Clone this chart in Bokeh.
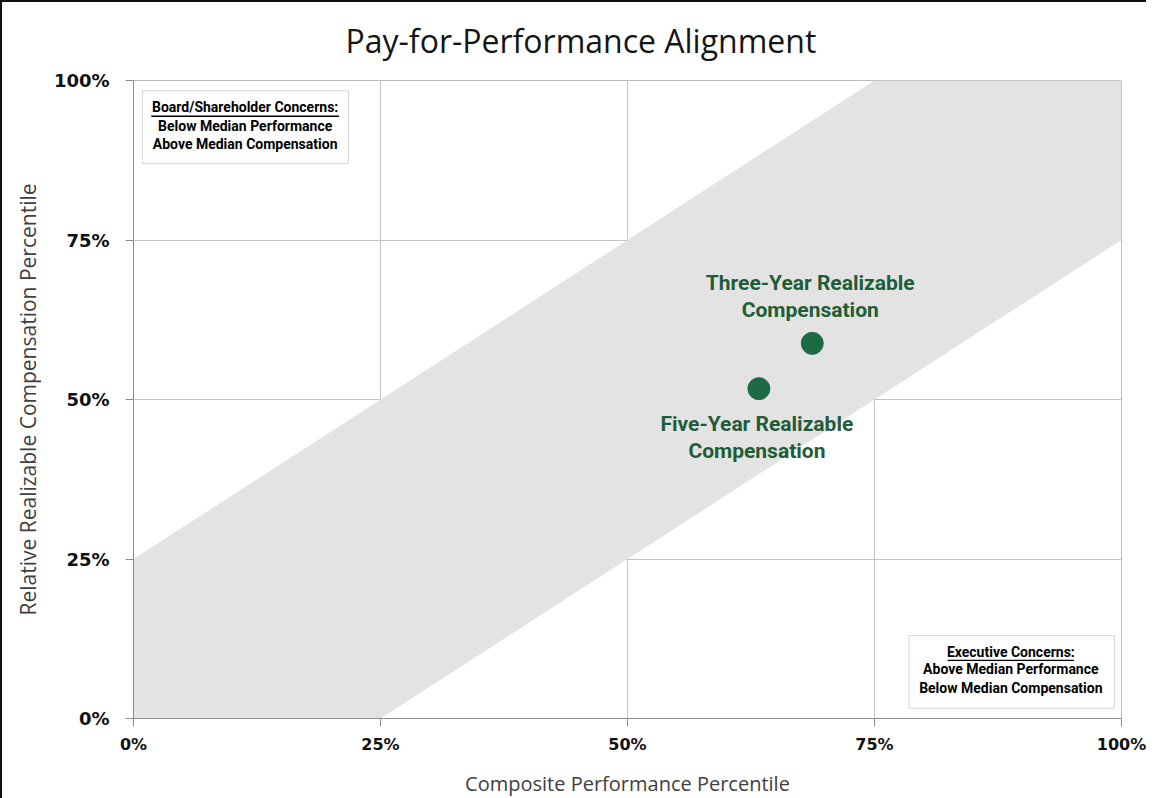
from bokeh.plotting import figure
from bokeh.models import Range1d, FixedTicker, CustomJSTickFormatter, Label, BoxAnnotation, ColumnDataSource
from bokeh.core.properties import value
from bokeh.embed import file_html
from bokeh.resources import INLINE

# ---- data ----
series_names = ["Three-Year Realizable\nCompensation", "Five-Year Realizable\nCompensation"]
perf_pct = [0.687, 0.633]
comp_pct = [0.588, 0.517]
label_dy = [-47, 49]   # label placement (px) relative to each point
ticks = [0, 0.25, 0.5, 0.75, 1.0]
tick_labels = ["0%", "25%", "50%", "75%", "100%"]
band_width = 0.25
box_tl = ["Board/Shareholder Concerns:", "Below Median Performance", "Above Median Compensation"]
box_br = ["Executive Concerns:", "Above Median Performance", "Below Median Compensation"]

GREEN = "#1d6a45"
TEXT_GREEN = "#1f5c38"

p = figure(frame_width=988, frame_height=638, output_backend="svg", toolbar_location=None,
           x_range=Range1d(0, 1), y_range=Range1d(0, 1),
           min_border_left=131, min_border_right=25, min_border_top=78, min_border_bottom=60,
           title="Pay-for-Performance Alignment")
p.styles = {"border-left": "2px solid #111", "border-top": "2px solid #111"}
p.title.align = "left"
p.title.offset = 212
p.title.vertical_align = "top"
p.title.standoff = 33
p.title.text_font = "Open Sans"
p.title.text_font_size = "32px"
p.title.text_font_style = "normal"
p.title.text_color = "#151515"
p.outline_line_color = "#bdbdbd"
p.background_fill_color = "white"

# diagonal alignment band
bx = [0, 0, 1 - band_width, 1, 1, band_width]
by = [0, band_width, 1, 1, 1 - band_width, 0]
p.patch(bx, by, fill_color="#e3e3e3", line_color=None)

# axes
fmt = CustomJSTickFormatter(args=dict(lbls=tick_labels, tvals=ticks),
                            code="const i = tvals.indexOf(tick); return i >= 0 ? lbls[i] : '';")
for ax in (p.xaxis[0], p.yaxis[0]):
    ax.ticker = FixedTicker(ticks=ticks)
    ax.formatter = fmt
    ax.axis_line_color = "#8c8c8c"
    ax.major_tick_line_color = "#8c8c8c"
    ax.major_tick_out = 8
    ax.major_tick_in = 0
    ax.minor_tick_line_color = None
    ax.major_label_text_font = "DejaVu Sans"
    ax.major_label_text_font_style = "bold"
    ax.major_label_text_color = "#111111"
    ax.axis_label_text_font = "Open Sans"
    ax.axis_label_text_font_style = "normal"
    ax.axis_label_text_color = "#404040"
p.xaxis.axis_label_text_font_size = "20px"
p.yaxis.axis_label_text_font_size = "21px"
p.xaxis.major_label_text_font_size = "16px"
p.yaxis.major_label_text_font_size = "18px"
p.xaxis.axis_label = "Composite Performance Percentile"
p.yaxis.axis_label = "Relative Realizable Compensation Percentile"
p.xaxis.major_label_standoff = 8
p.yaxis.major_label_standoff = 16
p.xaxis.axis_label_standoff = 13
p.yaxis.axis_label_standoff = 9

p.grid.grid_line_color = "#c4c4c4"
p.grid.ticker = FixedTicker(ticks=ticks)
p.grid.level = "underlay"

# points
src = ColumnDataSource(dict(x=perf_pct, y=comp_pct, name=series_names, dy=label_dy))
p.scatter("x", "y", source=src, size=22, fill_color=GREEN, line_color=GREEN)

# data labels
p.text("x", "y", text="name", source=src, x_offset=-2, y_offset="dy",
       text_font=value("Roboto"), text_font_style="bold", text_font_size="21px",
       text_color=TEXT_GREEN, text_align="center", text_baseline="middle", text_line_height=1.15)

# concern boxes
def concern_box(lines, left, right, bottom, top, cx, ys, ul_half):
    p.add_layout(BoxAnnotation(left=left, right=right, bottom=bottom, top=top,
                               fill_color="white", fill_alpha=1.0,
                               line_color="#7a7a7a", line_width=1, level="underlay"))
    for t, yy in zip(lines, ys):
        p.add_layout(Label(x=cx, y=yy, text=t, text_align="center", text_baseline="middle",
                           text_font="Roboto", text_font_style="bold", text_font_size="14px",
                           text_color="#000000", level="overlay"))
    p.segment(x0=[cx - ul_half], x1=[cx + ul_half], y0=[ys[0] - 0.014], y1=[ys[0] - 0.014],
              line_color="#000000", line_width=1.3, level="overlay")

concern_box(box_tl, 0.009, 0.2176, 0.870, 0.984, 0.113, [0.958, 0.929, 0.901], 0.095)
concern_box(box_br, 0.785, 0.993, 0.016, 0.130, 0.888, [0.105, 0.077, 0.048], 0.064)

open("out.html", "w").write(file_html(p, INLINE))
